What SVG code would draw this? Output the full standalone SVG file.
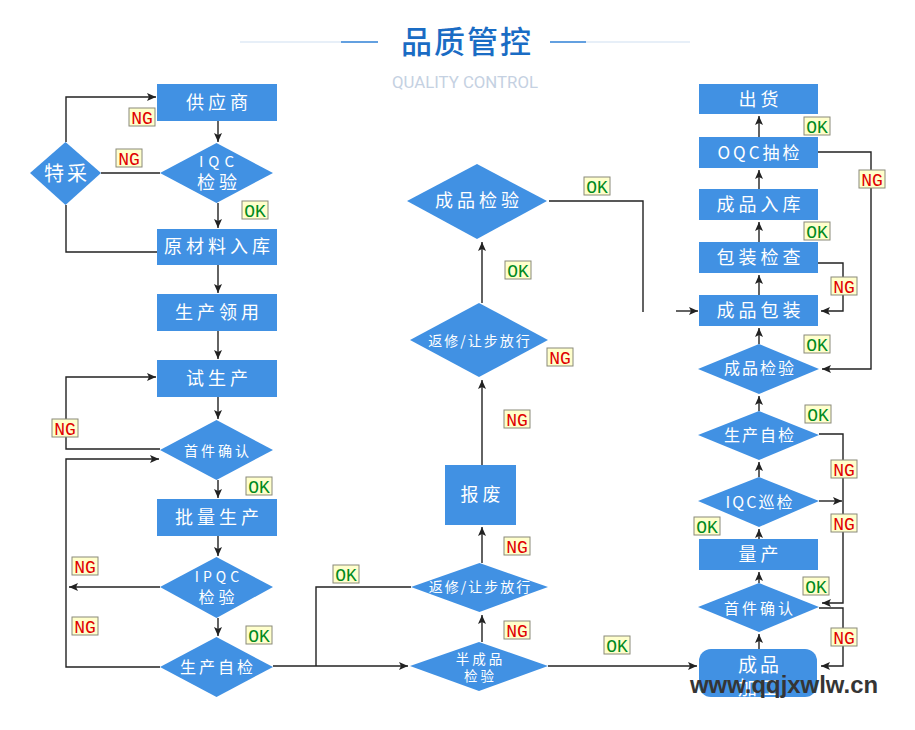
<svg xmlns="http://www.w3.org/2000/svg" width="915" height="730" viewBox="0 0 915 730">
<defs>
<style>
.n{fill:#4191e3;}
.t{fill:#fff;font-family:"Noto Sans CJK SC","Noto Sans",sans-serif;text-anchor:middle;}
.c{fill:none;stroke:#222;stroke-width:1.4;}
.lb{fill:#ffffcc;stroke:#8a8a7a;stroke-width:1;}
.ng{fill:#e00000;font-family:"Liberation Mono",monospace;font-size:18px;text-anchor:middle;}
.ok{fill:#008a20;font-family:"Liberation Mono",monospace;font-size:18px;text-anchor:middle;}
</style>
<marker id="a" markerUnits="userSpaceOnUse" markerWidth="10" markerHeight="8" refX="9" refY="4" orient="auto">
<path d="M0,0 L9,4 L0,8 L2,4 z" fill="#222"/>
</marker>
</defs>
<rect width="915" height="730" fill="#fff"/>
<g id="title">
<line x1="240" y1="42" x2="341" y2="42" stroke="#cfe0f2" stroke-width="1.2"/>
<line x1="341" y1="42" x2="378" y2="42" stroke="#2f80d6" stroke-width="1.6"/>
<line x1="550" y1="42" x2="586" y2="42" stroke="#2f80d6" stroke-width="1.6"/>
<line x1="586" y1="42" x2="690" y2="42" stroke="#cfe0f2" stroke-width="1.2"/>
<text x="467" y="53" font-family="Noto Sans CJK SC,sans-serif" font-size="31" font-weight="500" fill="#1a6cc4" text-anchor="middle" letter-spacing="2">品质管控</text>
<text x="465" y="88" font-family="Roboto,sans-serif" font-size="17" fill="#c5d1e2" text-anchor="middle" textLength="146" lengthAdjust="spacingAndGlyphs">QUALITY CONTROL</text>
</g>
<g id="connectors">
<path class="c" d="M66,142 V97 H156" marker-end="url(#a)"/>
<path class="c" d="M218,121 V142" marker-end="url(#a)"/>
<path class="c" d="M160,173 H101"/>
<path class="c" d="M218,203 V228" marker-end="url(#a)"/>
<path class="c" d="M66,205 V252 H157"/>
<path class="c" d="M218,265 V293" marker-end="url(#a)"/>
<path class="c" d="M218,331 V359" marker-end="url(#a)"/>
<path class="c" d="M218,397 V419" marker-end="url(#a)"/>
<path class="c" d="M160,449 H66 V377 H156" marker-end="url(#a)"/>
<path class="c" d="M160,667 H66 V459 H159" marker-end="url(#a)"/>
<path class="c" d="M218,480 V498" marker-end="url(#a)"/>
<path class="c" d="M218,536 V556" marker-end="url(#a)"/>
<path class="c" d="M160,587 H69" marker-end="url(#a)"/>
<path class="c" d="M218,618 V636" marker-end="url(#a)"/>
<path class="c" d="M273,666 H408" marker-end="url(#a)"/>
<path class="c" d="M316,666 V587 H411"/>
<path class="c" d="M482,642 V615" marker-end="url(#a)"/>
<path class="c" d="M482,563 V527" marker-end="url(#a)"/>
<path class="c" d="M482,465 V380" marker-end="url(#a)"/>
<path class="c" d="M482,303 V242" marker-end="url(#a)"/>
<path class="c" d="M549,201 H643 V312"/>
<path class="c" d="M548,666 H697" marker-end="url(#a)"/>
<path class="c" d="M676,311 H698" marker-end="url(#a)"/>
<path class="c" d="M759,295 V275" marker-end="url(#a)"/>
<path class="c" d="M759,242 V222" marker-end="url(#a)"/>
<path class="c" d="M759,189 V170" marker-end="url(#a)"/>
<path class="c" d="M759,137 V116" marker-end="url(#a)"/>
<path class="c" d="M818,152 H871 V369 H822" marker-end="url(#a)"/>
<path class="c" d="M818,263 H843 V311 H821" marker-end="url(#a)"/>
<path class="c" d="M759,344 V328" marker-end="url(#a)"/>
<path class="c" d="M759,411 V396" marker-end="url(#a)"/>
<path class="c" d="M819,434 H843 V603 H822" marker-end="url(#a)"/>
<path class="c" d="M819,501 H842" marker-end="url(#a)"/>
<path class="c" d="M759,477 V462" marker-end="url(#a)"/>
<path class="c" d="M759,539 V529" marker-end="url(#a)"/>
<path class="c" d="M759,583 V572" marker-end="url(#a)"/>
<path class="c" d="M819,608 H843 V666 H821" marker-end="url(#a)"/>
<path class="c" d="M759,649 V634" marker-end="url(#a)"/>
</g>
<g id="n-supplier"><rect class="n" x="157" y="84" width="120" height="37"/><text class="t" x="219" y="109" font-size="18" letter-spacing="4">供应商</text></g>
<g id="n-iqc"><polygon class="n" points="216.5,143 273,173 216.5,203 160,173"/><text class="t" x="219" y="167" font-size="15" letter-spacing="5">IQC</text><text class="t" x="219" y="189" font-size="18" letter-spacing="4">检验</text></g>
<g id="n-tecai"><polygon class="n" points="65.5,142 101,173 65.5,205 30,173"/><text class="t" x="67" y="181" font-size="20" letter-spacing="3">特采</text></g>
<g id="n-material"><rect class="n" x="157" y="229" width="120" height="36"/><text class="t" x="219" y="253" font-size="18" letter-spacing="4">原材料入库</text></g>
<g id="n-lingyong"><rect class="n" x="157" y="294" width="120" height="37"/><text class="t" x="219" y="319" font-size="18" letter-spacing="4">生产领用</text></g>
<g id="n-trial"><rect class="n" x="157" y="360" width="120" height="37"/><text class="t" x="219" y="385" font-size="18" letter-spacing="4">试生产</text></g>
<g id="n-first1"><polygon class="n" points="216.5,420 273,450 216.5,480 160,450"/><text class="t" x="218" y="455.5" font-size="14" letter-spacing="3">首件确认</text></g>
<g id="n-mass"><rect class="n" x="157" y="499" width="120" height="37"/><text class="t" x="219" y="524" font-size="18" letter-spacing="4">批量生产</text></g>
<g id="n-ipqc"><polygon class="n" points="216.5,557 273,587 216.5,618 160,587"/><text class="t" x="219" y="582" font-size="14" letter-spacing="4">IPQC</text><text class="t" x="218.5" y="603" font-size="16" letter-spacing="4">检验</text></g>
<g id="n-self1"><polygon class="n" points="216.5,637 273,667 216.5,697 160,667"/><text class="t" x="218" y="673" font-size="16" letter-spacing="3">生产自检</text></g>
<g id="n-semi"><polygon class="n" points="479,642 548,666 479,691 410,666"/><text class="t" x="480.5" y="664" font-size="13.5" letter-spacing="3">半成品</text><text class="t" x="480.5" y="680.5" font-size="13.5" letter-spacing="3">检验</text></g>
<g id="n-rework1"><polygon class="n" points="479.5,563 548,587 479.5,612 411,587"/><text class="t" x="480.5" y="592" font-size="14" letter-spacing="2">返修/让步放行</text></g>
<g id="n-scrap"><rect class="n" x="445" y="465" width="71" height="60"/><text class="t" x="482.5" y="501" font-size="18" letter-spacing="4">报废</text></g>
<g id="n-rework2"><polygon class="n" points="479,303 548,340 479,377 410,340"/><text class="t" x="480" y="345.5" font-size="14" letter-spacing="2">返修/让步放行</text></g>
<g id="n-fqc1"><polygon class="n" points="477,164 547,201 477,239 407,201"/><text class="t" x="479" y="207" font-size="18" letter-spacing="4">成品检验</text></g>
<g id="n-ship"><rect class="n" x="699" y="84" width="119" height="30"/><text class="t" x="760.5" y="105.5" font-size="18" letter-spacing="4">出货</text></g>
<g id="n-oqc"><rect class="n" x="699" y="137" width="119" height="31"/><text class="t" x="760" y="159" font-size="17" letter-spacing="3">OQC抽检</text></g>
<g id="n-store"><rect class="n" x="699" y="189" width="119" height="31"/><text class="t" x="760.5" y="211" font-size="18" letter-spacing="4">成品入库</text></g>
<g id="n-packcheck"><rect class="n" x="699" y="242" width="119" height="31"/><text class="t" x="760.5" y="264" font-size="18" letter-spacing="4">包装检查</text></g>
<g id="n-pack"><rect class="n" x="699" y="295" width="119" height="31"/><text class="t" x="760.5" y="317" font-size="18" letter-spacing="4">成品包装</text></g>
<g id="n-fqc2"><polygon class="n" points="759,344 819,369 759,394 698,369"/><text class="t" x="760" y="374" font-size="16" letter-spacing="2">成品检验</text></g>
<g id="n-self2"><polygon class="n" points="759,411 819,435 759,460 698,435"/><text class="t" x="760" y="441" font-size="16" letter-spacing="2">生产自检</text></g>
<g id="n-ipqc2"><polygon class="n" points="759,477 819,501 759,527 698,501"/><text class="t" x="760" y="508" font-size="16" letter-spacing="2">IQC巡检</text></g>
<g id="n-mass2"><rect class="n" x="699" y="539" width="119" height="31"/><text class="t" x="760.5" y="561" font-size="18" letter-spacing="4">量产</text></g>
<g id="n-first2"><polygon class="n" points="759,583 819,607 759,632 698,607"/><text class="t" x="760" y="614" font-size="15" letter-spacing="3">首件确认</text></g>
<g id="n-process"><rect class="n" x="699" y="649" width="118" height="48" rx="12"/><text class="t" x="760" y="672" font-size="19" letter-spacing="3">成品</text><text class="t" x="760" y="695" font-size="19" letter-spacing="3">加工</text></g>
<g id="labels">
<rect class="lb" x="129" y="108" width="26" height="18"/><text class="ng" x="142" y="123.5">NG</text>
<rect class="lb" x="116" y="149" width="26" height="18"/><text class="ng" x="129" y="164.5">NG</text>
<rect class="lb" x="242" y="201" width="26" height="18"/><text class="ok" x="255" y="216.5">OK</text>
<rect class="lb" x="52" y="419" width="26" height="18"/><text class="ng" x="65" y="434.5">NG</text>
<rect class="lb" x="246" y="477" width="26" height="18"/><text class="ok" x="259" y="492.5">OK</text>
<rect class="lb" x="72" y="557" width="26" height="18"/><text class="ng" x="85" y="572.5">NG</text>
<rect class="lb" x="72" y="617" width="26" height="18"/><text class="ng" x="85" y="632.5">NG</text>
<rect class="lb" x="246" y="626" width="26" height="18"/><text class="ok" x="259" y="641.5">OK</text>
<rect class="lb" x="333" y="565" width="26" height="18"/><text class="ok" x="346" y="580.5">OK</text>
<rect class="lb" x="504" y="621" width="26" height="18"/><text class="ng" x="517" y="636.5">NG</text>
<rect class="lb" x="504" y="537" width="26" height="18"/><text class="ng" x="517" y="552.5">NG</text>
<rect class="lb" x="504" y="410" width="26" height="18"/><text class="ng" x="517" y="425.5">NG</text>
<rect class="lb" x="604" y="636" width="26" height="18"/><text class="ok" x="617" y="651.5">OK</text>
<rect class="lb" x="584" y="177" width="26" height="18"/><text class="ok" x="597" y="192.5">OK</text>
<rect class="lb" x="505" y="261" width="26" height="18"/><text class="ok" x="518" y="276.5">OK</text>
<rect class="lb" x="547" y="348" width="26" height="18"/><text class="ng" x="560" y="363.5">NG</text>
<rect class="lb" x="804" y="117" width="26" height="18"/><text class="ok" x="817" y="132.5">OK</text>
<rect class="lb" x="859" y="170" width="26" height="18"/><text class="ng" x="872" y="185.5">NG</text>
<rect class="lb" x="804" y="222" width="26" height="18"/><text class="ok" x="817" y="237.5">OK</text>
<rect class="lb" x="831" y="277" width="26" height="18"/><text class="ng" x="844" y="292.5">NG</text>
<rect class="lb" x="804" y="335" width="26" height="18"/><text class="ok" x="817" y="350.5">OK</text>
<rect class="lb" x="805" y="405" width="26" height="18"/><text class="ok" x="818" y="420.5">OK</text>
<rect class="lb" x="831" y="460" width="26" height="18"/><text class="ng" x="844" y="475.5">NG</text>
<rect class="lb" x="831" y="514" width="26" height="18"/><text class="ng" x="844" y="529.5">NG</text>
<rect class="lb" x="694" y="517" width="26" height="18"/><text class="ok" x="707" y="532.5">OK</text>
<rect class="lb" x="803" y="577" width="26" height="18"/><text class="ok" x="816" y="592.5">OK</text>
<rect class="lb" x="831" y="628" width="26" height="18"/><text class="ng" x="844" y="643.5">NG</text>
</g>
<text x="690" y="693" font-family="Liberation Sans,sans-serif" font-size="24" font-weight="bold" fill="#353535" textLength="188" lengthAdjust="spacingAndGlyphs">www.qqjxwlw.cn</text>
</svg>
